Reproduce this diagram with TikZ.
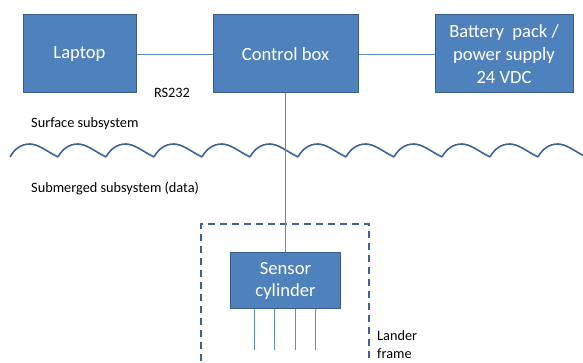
\documentclass[tikz,border=0pt]{standalone}
\usepackage{fontspec}
\setmainfont{Carlito}
\definecolor{boxfill}{HTML}{4F81BD}
\definecolor{boxline}{HTML}{385D8A}
\definecolor{wirecol}{HTML}{5B8CC8}
\definecolor{wavecol}{HTML}{3E6394}
\tikzset{
    unit/.style={rectangle,draw=boxline,line width=1pt,fill=boxfill,text=white,
        align=center,inner sep=0pt,font=\fontsize{18.6}{22.7}\selectfont},
    wire/.style={draw=wirecol,line width=0.8pt},
    note/.style={anchor=west,inner sep=0pt,align=left,font=\fontsize{14.3}{17.4}\selectfont}
}

\begin{document}
\begin{tikzpicture}[x=1pt,y=1pt]
            \useasboundingbox (0,0) rectangle (583,363);
            \begin{scope}[every node/.style={unit}]
                \node[minimum width=113pt,minimum height=78pt] (laptop) at (79.5,309) {Laptop};
                \node[minimum width=145pt,minimum height=78pt] (ctrl) at (285.5,309) {Control box};
                \node[minimum width=138pt,minimum height=78pt] (battery) at (504,309) {Battery~ pack /\\power supply\\24 VDC};
                \node[minimum width=110pt,minimum height=56pt] (sensor) at (285.5,82) {Sensor\\cylinder};
            \end{scope}

            % labels
            \node[inner sep=0pt,font=\fontsize{14.3}{17.4}\selectfont] (rs) at (172,270) {RS232};
            \node[note] (surf) at (31,239) {Surface subsystem};
            \node[note] (sub) at (31,174) {Submerged subsystem (data)};
            \node[note] (lander) at (377,18.5) {Lander\\frame};

            % water surface
            \foreach \i in {0,...,12}
                \draw[wavecol,line width=1.6pt,line join=round]
                    (10+48*\i,206) .. controls (15+48*\i,215) and (22+48*\i,219) .. (30+48*\i,219)
                    .. controls (38+48*\i,219) and (48+48*\i,211) .. (58+48*\i,206);

            % lander frame
            \draw[wavecol,line width=1.5pt,dash pattern=on 7pt off 5pt] (201,-10) -- (201,139) -- (369,139) -- (369,-10);

            % cables
            \begin{scope}
                \draw[wire] (laptop) -- (ctrl);
                \draw[wire] (ctrl) -- (battery);
                \draw[wire] (ctrl) -- (sensor);
                \foreach \x [count=\k] in {254.5,274.5,295,315.5} {
                    \coordinate (leg\k) at (\x,13);
                    \draw[wire] (sensor.south -| leg\k) -- (leg\k);
                }
            \end{scope}
\end{tikzpicture}
\end{document}
